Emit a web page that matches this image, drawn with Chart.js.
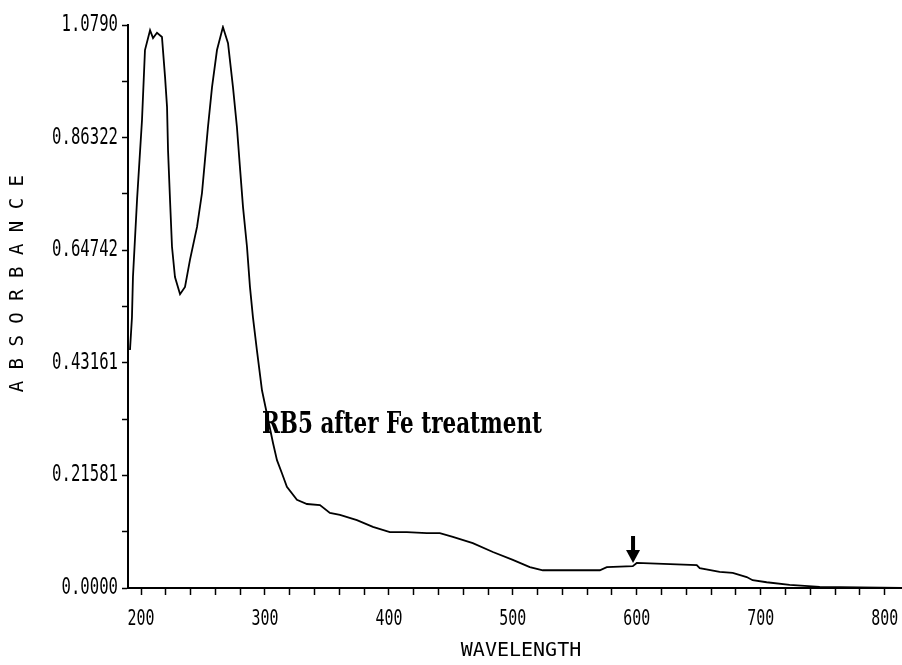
<!DOCTYPE html>
<html>
<head>
<meta charset="utf-8">
<title>RB5 after Fe treatment</title>
<script src="https://cdn.jsdelivr.net/npm/chart.js@4.4.0/dist/chart.umd.min.js"></script>
<style>
  html, body { margin: 0; padding: 0; background: #fff; }
  #wrap { width: 902px; height: 665px; }
</style>
</head>
<body>
<div id="wrap"><canvas id="specChart" width="902" height="665"></canvas></div>
<script>
// Spectrum (wavelength nm / absorbance)
const wavelengths = [191.1, 192.7, 193.5, 196.8, 200.8, 203.2, 207.3, 209.7, 212.9, 216.9,
    219.4, 221.0, 221.8, 223.4, 225.0, 227.4, 231.5, 235.5, 239.5, 245.2,
    249.2, 251.6, 254.0, 257.3, 261.3, 266.1, 270.2, 274.2, 277.4, 279.8,
    282.3, 285.5, 287.9, 290.3, 293.5, 297.6, 306.5, 309.7, 313.7, 317.7,
    325.8, 333.9, 344.4, 352.4, 360.5, 374.2, 387.1, 400.8, 414.5, 430.6,
    441.1, 451.6, 467.7, 483.9, 500.0, 513.7, 524.2, 537.9, 570.2, 575.8,
    596.8, 600.0, 648.4, 650.8, 666.9, 677.4, 688.7, 693.5, 704.8, 723.4,
    747.6, 780.0, 814.0];
const absorbance = [0.456, 0.519, 0.596, 0.744, 0.897, 1.031, 1.069, 1.054, 1.064, 1.056,
    0.979, 0.922, 0.839, 0.744, 0.654, 0.596, 0.563, 0.577, 0.629, 0.692,
    0.757, 0.820, 0.883, 0.960, 1.031, 1.075, 1.044, 0.960, 0.883, 0.807,
    0.730, 0.654, 0.577, 0.519, 0.456, 0.379, 0.278, 0.245, 0.220, 0.194,
    0.169, 0.161, 0.159, 0.144, 0.140, 0.130, 0.117, 0.107, 0.107, 0.105,
    0.105, 0.098, 0.086, 0.069, 0.054, 0.040, 0.034, 0.034, 0.034, 0.040,
    0.042, 0.048, 0.044, 0.038, 0.031, 0.029, 0.021, 0.015, 0.011, 0.006,
    0.002, 0.001, 0.000];

// Axis ticks
const xTickValues = [200, 220, 240, 260, 280, 300, 320, 340, 360, 380, 400, 420, 440, 460, 480,
    500, 520, 540, 560, 580, 600, 620, 640, 660, 680, 700, 720, 740, 760, 780, 800];
const xTickLabels = ['200', '', '', '', '', '300', '', '', '', '', '400', '', '', '', '',
    '500', '', '', '', '', '600', '', '', '', '', '700', '', '', '', '', '800'];
const yTickValues = [0, 0.1079, 0.21581, 0.32371, 0.43161, 0.53952, 0.64742, 0.75532, 0.86322, 0.97112, 1.0790];
const yTickLabels = ['0.0000', '', '0.21581', '', '0.43161', '', '0.64742', '', '0.86322', '', '1.0790'];

const noteText = 'RB5 after Fe treatment';
const noteAt = [297.6, 0.297];
const arrowAt = [597, 0.046];

Chart.defaults.color = '#000';

// the plotter's digits are tall and narrow, so squeeze a mono face sideways
function drawNarrowText(ctx, text, x, y, font, sx, align) {
    ctx.save();
    ctx.translate(x, y);
    ctx.scale(sx, 1);
    ctx.font = font;
    ctx.fillStyle = '#000';
    ctx.textAlign = align;
    ctx.textBaseline = 'middle';
    ctx.fillText(text, 0, 0);
    ctx.restore();
}

const tickLabelPlugin = {
    id: 'tickLabels',
    afterDraw(chart) {
        const { ctx, scales: { x, y } } = chart;
        x.ticks.forEach((t, i) => {
            const label = xTickLabels[xTickValues.indexOf(t.value)];
            if (label) drawNarrowText(ctx, label, x.getPixelForValue(t.value), x.top + 32,
                '21px "DejaVu Sans Mono", monospace', 0.71, 'center');
        });
        y.ticks.forEach((t) => {
            const label = yTickLabels[yTickValues.indexOf(t.value)];
            if (label) drawNarrowText(ctx, label, y.right - 10, y.getPixelForValue(t.value),
                '23px "DejaVu Sans Mono", monospace', 0.68, 'right');
        });
    }
};

// Label + arrow drawn on top of the trace
const annotationPlugin = {
    id: 'annotations',
    afterDatasetsDraw(chart) {
        const { ctx, scales: { x, y } } = chart;

        ctx.save();
        ctx.fillStyle = '#000';
        ctx.font = 'bold 29px "DejaVu Serif", "Liberation Serif", serif';
        const sx = 280 / ctx.measureText(noteText).width;
        ctx.translate(x.getPixelForValue(noteAt[0]), y.getPixelForValue(noteAt[1]));
        ctx.scale(sx, 1);
        ctx.textBaseline = 'alphabetic';
        ctx.fillText(noteText, 0, 0);
        ctx.restore();

        const ax = x.getPixelForValue(arrowAt[0]);
        const ay = y.getPixelForValue(arrowAt[1]) - 1;
        ctx.save();
        ctx.fillStyle = '#000';
        ctx.fillRect(ax - 2, ay - 27, 4, 16);
        ctx.beginPath();
        ctx.moveTo(ax - 7, ay - 13);
        ctx.lineTo(ax + 7, ay - 13);
        ctx.lineTo(ax, ay);
        ctx.closePath();
        ctx.fill();
        ctx.restore();
    }
};

const ctx = document.getElementById('specChart').getContext('2d');
const specChart = new Chart(ctx, {
    type: 'line',
    data: {
        datasets: [{
            data: wavelengths.map((w, i) => ({ x: w, y: absorbance[i] })),
            borderColor: '#000',
            borderWidth: 1.8,
            pointRadius: 0,
            tension: 0,
            fill: false
        }]
    },
    options: {
        responsive: false,
        animation: false,
        devicePixelRatio: 1,
        layout: { padding: { top: 25, left: 0, right: 0, bottom: 0 } },
        plugins: {
            legend: { display: false },
            tooltip: { enabled: false }
        },
        scales: {
            x: {
                type: 'linear',
                min: 189.5,
                max: 814,
                afterBuildTicks: (scale) => { scale.ticks = xTickValues.map(v => ({ value: v })); },
                afterFit: (scale) => { scale.height = 77; },
                grid: { drawOnChartArea: false, drawTicks: true, tickLength: 7, tickColor: '#000', tickWidth: 1.5 },
                border: { display: true, color: '#000', width: 2 },
                ticks: { display: false },
                title: {
                    display: true,
                    text: ' WAVELENGTH',
                    font: { family: '"DejaVu Sans Mono", monospace', size: 20 },
                    padding: { top: 0, bottom: 2 }
                }
            },
            y: {
                min: 0,
                max: 1.079,
                afterBuildTicks: (scale) => { scale.ticks = yTickValues.map(v => ({ value: v })); },
                afterFit: (scale) => { scale.width = 128; },
                grid: { drawOnChartArea: false, drawTicks: true, tickLength: 6, tickColor: '#000', tickWidth: 1.5 },
                border: { display: true, color: '#000', width: 2 },
                ticks: { display: false },
                title: {
                    display: true,
                    text: '    A B S O R B A N C E',
                    font: { family: '"DejaVu Sans Mono", monospace', size: 19 },
                    padding: { top: 7, bottom: 0 }
                }
            }
        }
    },
    plugins: [annotationPlugin, tickLabelPlugin]
});
</script>
</body>
</html>
